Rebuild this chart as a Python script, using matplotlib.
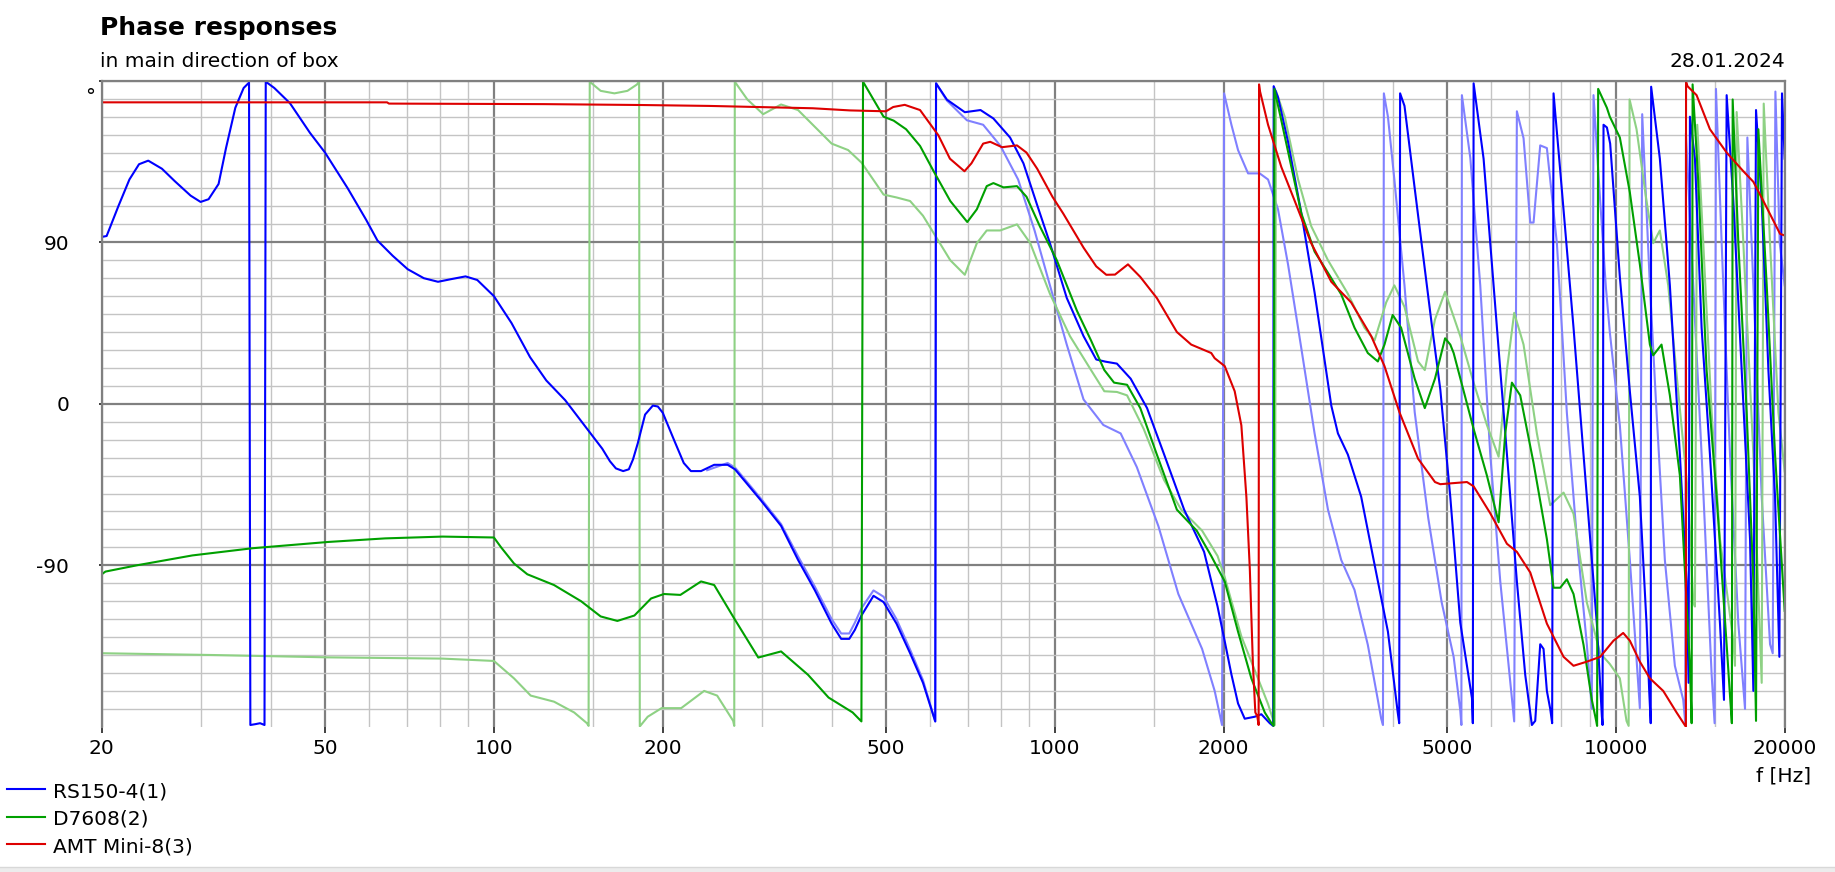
import numpy as np
import matplotlib.pyplot as plt
from matplotlib.lines import Line2D
from matplotlib.patches import Rectangle

# --- texts ---
TITLE = "Phase responses"
SUBTITLE = "in main direction of box"
DATE = "28.01.2024"
X_LABEL = "f [Hz]"
Y_UNIT = "°"

x_major = [20, 50, 100, 200, 500, 1000, 2000, 5000, 10000, 20000]
x_minor = [30, 40, 60, 70, 80, 90, 150, 300, 400, 600, 700, 800, 900,
           1500, 3000, 4000, 6000, 7000, 8000, 9000, 15000]
y_labeled = [-90, 0, 90]

series_names = ["RS150-4(1)", "D7608(2)", "AMT Mini-8(3)"]
series_colors = ["#0000ff", "#00a000", "#dd0000"]

# --- phase data (f [Hz], deg), as displayed (wrapped to +-180) ---
rs150 = [
    (20, 93), (20.4, 93.5), (21.4, 110), (22.4, 125), (23.3, 133.5), (24.2, 135.5),
    (25.6, 131), (27, 124), (28.8, 116), (30, 112.5), (31, 114), (32.3, 122.5),
    (33.3, 142.5), (34.6, 165), (35.8, 176), (36.6, 179), (36.8, -179), (37.6, -178.5),
    (38.3, -178), (39.0, -179), (39.2, 179.5), (40.6, 176), (43.3, 167.5), (47, 151),
    (50, 140), (54.9, 120), (59.2, 102.5), (62, 91), (66, 82.5), (70.2, 75), (75, 70),
    (79.5, 68), (84, 69.5), (89, 71), (93.4, 69), (100, 60), (107.5, 45), (116, 26),
    (124, 13), (134, 2), (145, -12), (156, -25), (161, -32), (165, -36), (170, -37.5),
    (174, -36.5), (177, -31), (180.5, -22), (186, -6), (192, -1), (196, -1.5), (200, -5),
    (210, -21), (218, -33), (224.5, -37.5), (234, -37.5), (247, -34), (261, -34),
    (269, -36.5), (299.5, -54), (325, -68), (348.5, -87), (373.5, -104), (400, -122.5),
    (416, -131), (430, -131), (440, -126), (452, -118), (475, -107), (495, -110.5),
    (522, -122.5), (552, -139), (582, -155.5), (612, -177), (614, 178.6), (642, 169.5),
    (691, 162.5), (737, 163.7), (777, 159), (832, 148.4), (879, 134), (930, 110.7),
    (980, 89.5), (1050, 59), (1125, 37.7), (1185, 24.7), (1230, 23.5), (1290, 22.4),
    (1365, 14), (1460, -2.4), (1565, -28), (1700, -59), (1845, -82.5), (1950, -113),
    (2000, -129.6), (2064, -150.8), (2121, -167), (2180, -175.5), (2271, -174.4),
    (2334, -173), (2416, -178), (2450, -179.5), (2455, 177), (2499, 170.8), (2604, 146),
    (2751, 106), (2904, 62), (3110, -1), (3196, -16.5), (3329, -28.3), (3516, -51.8),
    (3714, -89.5), (3924, -127), (4085, -172), (4110, -178), (4125, 173), (4200, 166),
    (4380, 120), (4694, 45), (4865, 8), (5069, -52), (5281, -122), (5540, -164),
    (5560, -178), (5578, 178.6), (5811, 136.6), (6139, 42.4), (6395, -28), (6662, -99),
    (6894, -151), (7085, -179), (7183, -176.7), (7332, -134), (7432, -136.6),
    (7535, -160), (7639, -170), (7700, -178), (7744, 173), (7959, 130), (8406, 42.4),
    (8878, -51.8), (9250, -122.5), (9442, -174), (9470, -179), (9507, 155.5),
    (9640, 154), (9770, 145), (10166, 70.7), (10592, 7), (11036, -51.8), (11343, -122.5),
    (11468, -160), (11540, -178), (11560, 176.7), (11980, 136.6), (12483, 66),
    (13007, -28.3), (13370, -99), (13480, -155.5), (13554, 160), (13836, 136.6),
    (14220, 42.4), (14715, -28.3), (15334, -122.5), (15588, -165), (15760, 172),
    (16198, 113), (16763, 18.8), (17347, -75.4), (17586, -160), (17779, 163.7),
    (18198, 113), (18705, 18.8), (19224, -52), (19568, -141), (19780, 173),
    (20000, 136.6),
]

rs150_alt = [
    (240, -37), (261, -33), (269, -35.5), (299.5, -53), (325, -67), (348.5, -85),
    (373.5, -102), (400, -120), (416, -128), (430, -128), (440, -122), (452, -114),
    (475, -104), (495, -107.5), (522, -120), (552, -137), (582, -154), (612, -177),
    (614, 178.6), (642, 169), (697, 158), (745, 155.5), (800, 143.7), (860, 125),
    (920, 96.6), (980, 66), (1050, 33), (1125, 2.4), (1220, -11.8), (1310, -16.5),
    (1400, -35.3), (1530, -68.3), (1660, -106), (1830, -136.6), (1927, -160),
    (1986, -179), (2003, 173), (2064, 155.5), (2121, 141.4), (2210, 128.4),
    (2318, 128.4), (2399, 125), (2499, 108.4), (2604, 77.7), (2751, 30.6),
    (2904, -16.5), (3068, -59), (3239, -87), (3421, -103.7), (3613, -134.3),
    (3765, -165), (3817, -175.5), (3845, -179), (3859, 173), (3924, 160), (4029, 125),
    (4200, 66), (4380, -4.7), (4630, -63.6), (4893, -110.7), (5139, -141), (5281, -171),
    (5305, -179), (5316, 172), (5503, 137), (5732, 66), (5972, -28), (6223, -99),
    (6589, -177), (6662, 163), (6847, 148), (7038, 101), (7134, 101), (7332, 144),
    (7535, 142.5), (7851, 89.5), (8179, -5), (8521, -75), (8878, -134), (9062, -170),
    (9124, 172), (9378, 113), (9600, 65), (9756, 40), (10166, -12), (10592, -87),
    (11036, -169.6), (11143, 161.4), (11500, 66), (11818, -4.7), (12229, -87),
    (12742, -146), (13187, -165), (13300, -178), (13333, 150.8), (13741, 66),
    (14220, -28.3), (14817, -150.8), (15000, -178), (15083, 175.5), (15440, 89.5),
    (15978, -28.3), (16535, -122.5), (16994, -170), (17158, 148.4), (17586, 66),
    (18198, -51.8), (18832, -134), (19040, -139), (19250, 174), (19596, 89.5),
    (20000, 66),
]

d7608 = [
    (20, -95), (20.3, -93.5), (23.1, -90), (29, -84.5), (37.1, -80.5), (50.6, -77),
    (64, -75), (81, -74), (100, -74.5), (103, -80), (108.6, -89), (114.7, -95),
    (128, -101), (143, -110), (155, -118.5), (166, -121), (178, -118), (190.6, -108.5),
    (201, -106), (215, -106.5), (234, -99), (247, -101), (268.6, -120), (296, -141.4),
    (325, -138), (363, -151), (395, -163.7), (436, -172), (452, -177), (455, 179.5),
    (470, 172), (495, 160), (516, 157.8), (543, 153), (575, 143.7), (608, 129.6),
    (651, 113), (698, 101.3), (726, 108.4), (756, 121.3), (777, 123), (810, 120.6),
    (856, 121.3), (890, 115.4), (940, 99), (1008, 80), (1095, 51.8), (1160, 35.3),
    (1225, 18.8), (1275, 11.8), (1345, 10.6), (1420, -2.4), (1520, -28.3), (1650, -59),
    (1790, -70.7), (1900, -84.8), (2008, -99), (2121, -127), (2240, -153), (2367, -172),
    (2433, -178), (2455, -179.5), (2462, 175.5), (2533, 158), (2640, 132), (2751, 106),
    (2904, 84.8), (3068, 73), (3239, 61), (3421, 42.4), (3613, 28.3), (3765, 23.6),
    (3869, 33), (4001, 49.5), (4142, 42.4), (4380, 14), (4565, -2.4), (4760, 14),
    (4962, 36.5), (5069, 33), (5139, 28.3), (5578, -14), (5891, -40), (6181, -66),
    (6351, -16.5), (6527, 11.8), (6754, 4.7), (7134, -33), (7535, -75.4), (7744, -102.5),
    (7959, -102.5), (8179, -97.8), (8406, -106), (8758, -134.3), (9062, -165),
    (9225, -176.7), (9260, -179.5), (9300, 175.5), (9638, 165), (9756, 160),
    (10166, 148.4), (10592, 117.8), (11036, 77.7), (11500, 33), (11658, 27),
    (12063, 33), (12483, 4.7), (13007, -40), (13370, -110.7), (13554, -146),
    (13650, -178), (13704, 178), (14026, 124), (14515, 18.8), (15125, -51.8),
    (15760, -134.3), (15978, -162.6), (16100, -178), (16154, 169.6), (16535, 89.5),
    (17111, -4.7), (17586, -99), (17779, -176.7), (17951, 153), (18577, 66),
    (19224, -28.3), (20000, -115.4),
]

d7608_alt = [
    (20, -139), (31.6, -140), (50.6, -141.3), (81, -142), (100, -143.3), (108.6, -153),
    (116.3, -162.6), (128, -166), (139, -172), (146.5, -178), (147.5, -179.5),
    (148.2, 179.5), (155, 174.4), (164, 173), (173, 174.4), (180, 178), (181.5, 179.8),
    (182, -179.8), (188, -174.4), (199, -169.6), (215.7, -169.6), (237, -160),
    (250, -162.6), (267, -176.7), (268.2, -179.5), (268.8, 179.5), (283, 169.6),
    (302, 161.4), (325, 166.8), (348.5, 163.7), (373.5, 154.3), (400, 145), (428, 141.4),
    (452.5, 134.3), (495, 116.6), (522, 115), (552, 113), (582, 104.8), (617, 91.9),
    (651, 80), (691, 71.9), (726, 89.5), (756, 96.6), (799, 96.6), (856, 100),
    (904, 89.5), (980, 61.3), (1064, 37.7), (1160, 18.8), (1225, 7), (1290, 6.6),
    (1345, 4.7), (1440, -14), (1565, -42.4), (1680, -59), (1830, -70.7), (1950, -84.8),
    (2008, -96.6), (2150, -129.6), (2271, -148.4), (2399, -167.3), (2466, -179),
    (2478, 174.4), (2569, 160), (2714, 125), (2864, 99), (3068, 80), (3329, 61.3),
    (3564, 42.4), (3714, 35.3), (3896, 56.5), (4029, 66), (4200, 54), (4441, 23.6),
    (4565, 18.8), (4760, 47), (4962, 62.4), (5281, 37.7), (5578, 11.8), (5891, -11.8),
    (6181, -29.5), (6395, 18.8), (6589, 50.7), (6847, 33), (7232, -16.5), (7639, -56.5),
    (8069, -49.5), (8406, -61.3), (8878, -110.7), (9378, -139), (9756, -145),
    (10166, -153), (10448, -176.7), (10540, -179.5), (10580, 169.6), (10887, 153),
    (11343, 113), (11658, 89.5), (11980, 96.6), (12398, 66), (12918, 7), (13462, -51.8),
    (13741, -110.7), (13836, -113), (13969, 155.5), (14318, 89.5), (14817, -4.7),
    (15334, -75.4), (16198, -132), (16309, -146), (16421, 162.6), (16878, 89.5),
    (17586, -28.3), (18198, -155.5), (18350, 167.3), (18832, 89.5), (19489, -4.7),
    (20000, -37.7),
]

amt = [
    (20, 168), (64.5, 168), (65, 167.3), (123, 167), (184, 166.5), (242, 166),
    (370, 164.7), (431, 163.5), (500, 163), (515, 165.4), (540, 166.6), (575, 163.7),
    (620, 149.6), (650, 136.6), (690, 129.6), (710, 134), (745, 145), (767, 146),
    (805, 143), (856, 144), (890, 140), (930, 131), (990, 115.4), (1035, 106),
    (1125, 87), (1185, 76.6), (1235, 71.9), (1280, 72), (1350, 77.7), (1420, 70.7),
    (1520, 58.9), (1650, 40), (1750, 33), (1900, 28.3), (1927, 25.4), (2008, 21),
    (2092, 7), (2150, -12), (2195, -52), (2226, -92), (2255, -146), (2277, -172),
    (2295, -174), (2308, -179), (2312, 178), (2320, 174.4), (2399, 155.5), (2533, 132),
    (2677, 113), (2864, 89.5), (3110, 68), (3374, 56.5), (3664, 37.7), (3869, 21),
    (4114, -4.7), (4441, -30.6), (4760, -43.6), (4865, -44.8), (5428, -43.6),
    (5578, -46), (5972, -61), (6395, -78), (6662, -82.5), (7038, -94), (7535, -122.5),
    (8069, -141), (8406, -146), (8878, -143.7), (9378, -141), (9905, -132),
    (10306, -127.7), (10592, -132), (11036, -143.7), (11500, -153), (12147, -160),
    (12830, -172), (13333, -180), (13340, 179.5), (13420, 177), (13930, 172),
    (14715, 153), (15760, 140), (16878, 129.6), (17586, 123.7), (18324, 113),
    (19623, 94.7), (20000, 93.8),
]

W, H = 1835, 872
plt.rcParams['font.family'] = ['DejaVu Sans']
fig = plt.figure(figsize=(W / 100, H / 100), dpi=100)
L, R, T, B = 101.8, 1784.7, 80.8, 726.8
ax = fig.add_axes([L / W, 1 - B / H, (R - L) / W, (B - T) / H])

# light (second) curves first, main curves on top
plot_order = [
    (rs150_alt, "#8080ff"),
    (d7608_alt, "#8ed184"),
    (rs150, series_colors[0]),
    (d7608, series_colors[1]),
    (amt, series_colors[2]),
]
for data, col in plot_order:
    f, p = np.array(data).T
    ax.plot(f, p, color=col, lw=1.5, solid_joinstyle='round')

ax.set_xscale('log')
ax.set_xlim(20, 20000)
ax.set_ylim(-180, 180)

ax.set_xticks(x_major)
ax.set_xticklabels([str(v) for v in x_major])
ax.set_xticks(x_minor, minor=True)
ax.set_xticklabels([], minor=True)
ax.set_yticks(y_labeled + [180])
ax.set_yticklabels([str(v) for v in y_labeled] + [""])
ax.set_yticks([v for v in range(-170, 180, 10) if v % 90 != 0], minor=True)

ax.grid(which='major', color='#808080', lw=1.6)
ax.grid(which='minor', color='#c4c4c4', lw=1.0)
ax.set_axisbelow(True)

ax.tick_params(axis='x', which='major', direction='out', length=4, width=1.4,
               color='#404040', labelsize=14.5, pad=5)
ax.tick_params(axis='y', which='major', direction='out', length=2.5, width=1.2,
               color='#202020', labelsize=14.5, pad=21)
ax.tick_params(which='minor', length=0)

for side in ['left', 'top', 'right']:
    ax.spines[side].set_color('#808080')
    ax.spines[side].set_linewidth(1.6)
ax.spines['bottom'].set_visible(False)

# header texts
fig.text(100 / W, 1 - 34.5 / H, TITLE, fontsize=18, fontweight='bold', va='baseline')
fig.text(100 / W, 1 - 66.7 / H, SUBTITLE, fontsize=14.5, va='baseline')
fig.text(1785 / W, 1 - 66.7 / H, DATE, fontsize=14.5, va='baseline', ha='right')
fig.text(90.5 / W, 1 - 102 / H, Y_UNIT, fontsize=14.5, va='baseline', ha='center')
fig.text(1784 / W, 1 - 781 / H, X_LABEL, fontsize=14.5, va='baseline', ha='center')

# legend, bottom left
for i, (name, col) in enumerate(zip(series_names, series_colors)):
    yl = 789.3 + 27.5 * i
    fig.add_artist(Line2D([6.7 / W, 44.6 / W], [1 - yl / H, 1 - yl / H],
                          color=col, lw=1.5, transform=fig.transFigure))
    fig.text(52.7 / W, 1 - (yl + 8) / H, name, fontsize=14.5, va='baseline')

# light gray strip at the bottom edge
fig.add_artist(Rectangle((0, 0), 1, 5 / H, transform=fig.transFigure,
                         facecolor='#ececec', edgecolor='none'))
fig.add_artist(Line2D([0, 1], [5 / H, 5 / H], color='#d8d8d8', lw=1,
                      transform=fig.transFigure))

fig.savefig('out.png', dpi=100)
